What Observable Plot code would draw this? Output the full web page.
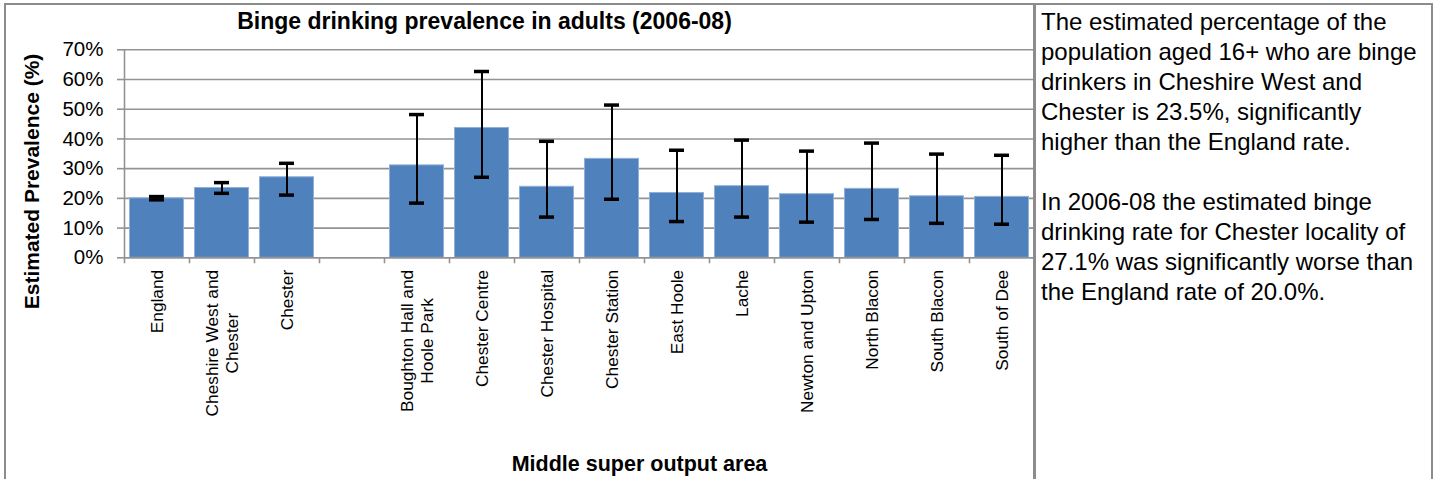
<!DOCTYPE html>
<html>
<head>
<meta charset="utf-8">
<script src="https://cdn.jsdelivr.net/npm/d3@7"></script>
<script src="https://cdn.jsdelivr.net/npm/@observablehq/plot@0.6"></script>
<style>
  html, body { margin: 0; padding: 0; background: #fff; }
  body { font-family: "Liberation Sans", Arial, sans-serif; }
  #wrap { position: relative; width: 1434px; height: 479px; overflow: hidden; }
  #chartbox { position: absolute; left: 4px; top: 3px; width: 1031px; height: 520px;
              border: 2px solid #8c8c8c; box-sizing: border-box; }
  #plot { position: absolute; left: 0; top: 0; }
  #panel { position: absolute; left: 1033px; top: 3px; width: 400px; height: 520px;
           border: 2px solid #8c8c8c; border-left: 3px solid #8c8c8c; box-sizing: border-box;
           padding: 2px 0 0 5px; font-size: 24px; line-height: 30px; color: #000; white-space: nowrap; }
  #panel p { margin: 0 0 30px 0; }
</style>
</head>
<body>
<div id="wrap">
  <div id="chartbox"></div>
  <div id="plot"></div>
  <div id="panel">
    <p>The estimated percentage of the<br>population aged 16+ who are binge<br>drinkers in Cheshire West and<br>Chester is 23.5%, significantly<br>higher than the England rate.</p>
    <p>In 2006-08 the estimated binge<br>drinking rate for Chester locality of<br>27.1% was significantly worse than<br>the England rate of 20.0%.</p>
  </div>
</div>
<script>
// ---- data ----
const categories = ["England", "Cheshire West and Chester", "Chester", " ",
  "Boughton Hall and Hoole Park", "Chester Centre", "Chester Hospital", "Chester Station",
  "East Hoole", "Lache", "Newton and Upton", "North Blacon", "South Blacon", "South of Dee"];
const categoryLabels = ["England", "Cheshire West and\nChester", "Chester", "",
  "Boughton Hall and\nHoole Park", "Chester Centre", "Chester Hospital", "Chester Station",
  "East Hoole", "Lache", "Newton and Upton", "North Blacon", "South Blacon", "South of Dee"];
const prevalence = [20.0, 23.5, 27.1, null, 31.1, 43.7, 23.9, 33.3, 21.8, 24.1, 21.4, 23.2, 20.7, 20.5];
const lowerCI    = [19.5, 21.7, 21.1, null, 18.4, 27.1, 13.7, 19.7, 12.2, 13.7, 12.0, 12.9, 11.6, 11.3];
const upperCI    = [20.6, 25.3, 31.8, null, 48.2, 62.7, 39.2, 51.4, 36.2, 39.6, 35.9, 38.6, 34.9, 34.5];
const yTicks = [0, 10, 20, 30, 40, 50, 60, 70];
const chartTitle = "Binge drinking prevalence in adults (2006-08)";
const yTitle = "Estimated Prevalence (%)";
const xTitle = "Middle super output area";

// ---- layout ----
const W = 1034, H = 479;
const mL = 124, mR = 0, mT = 49.3, mB = H - 257.3;
const step = (W - mL - mR) / categories.length;
const capW = 15, barInset = 5.5;
const gridColor = "#939393";
const font = "'Liberation Sans', Arial, sans-serif";

const rows = categories.map((c, i) => ({cat: c, v: prevalence[i], lo: lowerCI[i], hi: upperCI[i]}))
  .filter(d => d.v != null);
const labelOf = new Map(categories.map((c, i) => [c, categoryLabels[i]]));

const chart = Plot.plot({
  width: W, height: H,
  marginLeft: mL, marginRight: mR, marginTop: mT, marginBottom: mB,
  style: {fontFamily: font, background: "transparent", color: "#000", overflow: "visible"},
  x: {type: "band", domain: categories, padding: 0, axis: null},
  y: {domain: [0, 70], axis: null},
  marks: [
    Plot.gridY(yTicks, {stroke: gridColor, strokeOpacity: 1, strokeWidth: 1.6}),
    Plot.barY(rows, {x: "cat", y: "v", fill: "#4f81bd", stroke: "#8fb0d9", strokeWidth: 1,
      insetLeft: barInset, insetRight: barInset}),
    Plot.ruleX(rows, {x: "cat", y1: "lo", y2: "hi", stroke: "#000", strokeWidth: 2}),
    Plot.tickY(rows, {x: "cat", y: "lo", stroke: "#000", strokeWidth: 3.5,
      insetLeft: (step - capW) / 2, insetRight: (step - capW) / 2}),
    Plot.tickY(rows, {x: "cat", y: "hi", stroke: "#000", strokeWidth: 3.5,
      insetLeft: (step - capW) / 2, insetRight: (step - capW) / 2}),
    Plot.ruleY([0], {stroke: gridColor, strokeWidth: 1.6}),
    Plot.ruleX([categories[0]], {x: d => d, dx: -step / 2, y1: 0, y2: 70, stroke: gridColor, strokeWidth: 1.6}),
    Plot.axisY({ticks: yTicks, tickSize: 7, tickPadding: 14, tickFormat: d => d + "%",
      fontSize: 20.5, stroke: gridColor, strokeWidth: 1.6, label: null}),
    Plot.axisX({tickSize: 6, tickFormat: () => "", dx: -step / 2, stroke: gridColor, strokeWidth: 1.6, label: null}),
    Plot.axisX({tickSize: 0, tickPadding: 12, tickRotate: -90, textAnchor: "end", lineAnchor: "middle",
      lineHeight: 1.16, tickFormat: d => labelOf.get(d), fontSize: 17.3, label: null}),
    Plot.text([chartTitle], {frameAnchor: "top", textAnchor: "middle", dx: 484 - (mL + W - mR) / 2, dy: 21 - mT,
      fontSize: 23, fontWeight: "bold", lineAnchor: "middle"}),
    Plot.text([yTitle], {frameAnchor: "left", textAnchor: "middle", dx: 32 - mL, dy: 181 - (mT + (H - mB)) / 2, rotate: -90,
      fontSize: 21, fontWeight: "bold", lineAnchor: "middle"}),
    Plot.text([xTitle], {frameAnchor: "bottom", textAnchor: "middle", dx: 639 - (mL + W - mR) / 2, dy: 464 - (H - mB),
      fontSize: 21.5, fontWeight: "bold", lineAnchor: "middle"})
  ]
});
document.getElementById("plot").appendChild(chart);

// centre the lines of the two-line category labels on each other, block top at the axis
chart.querySelectorAll('g[aria-label="x-axis tick label"] text').forEach(t => {
  const spans = Array.from(t.querySelectorAll("tspan"));
  if (spans.length < 2) return;
  const L = Math.max(...spans.map(s => s.getComputedTextLength()));
  t.setAttribute("text-anchor", "middle");
  spans.forEach(s => s.setAttribute("x", -L / 2));
});
</script>
</body>
</html>
